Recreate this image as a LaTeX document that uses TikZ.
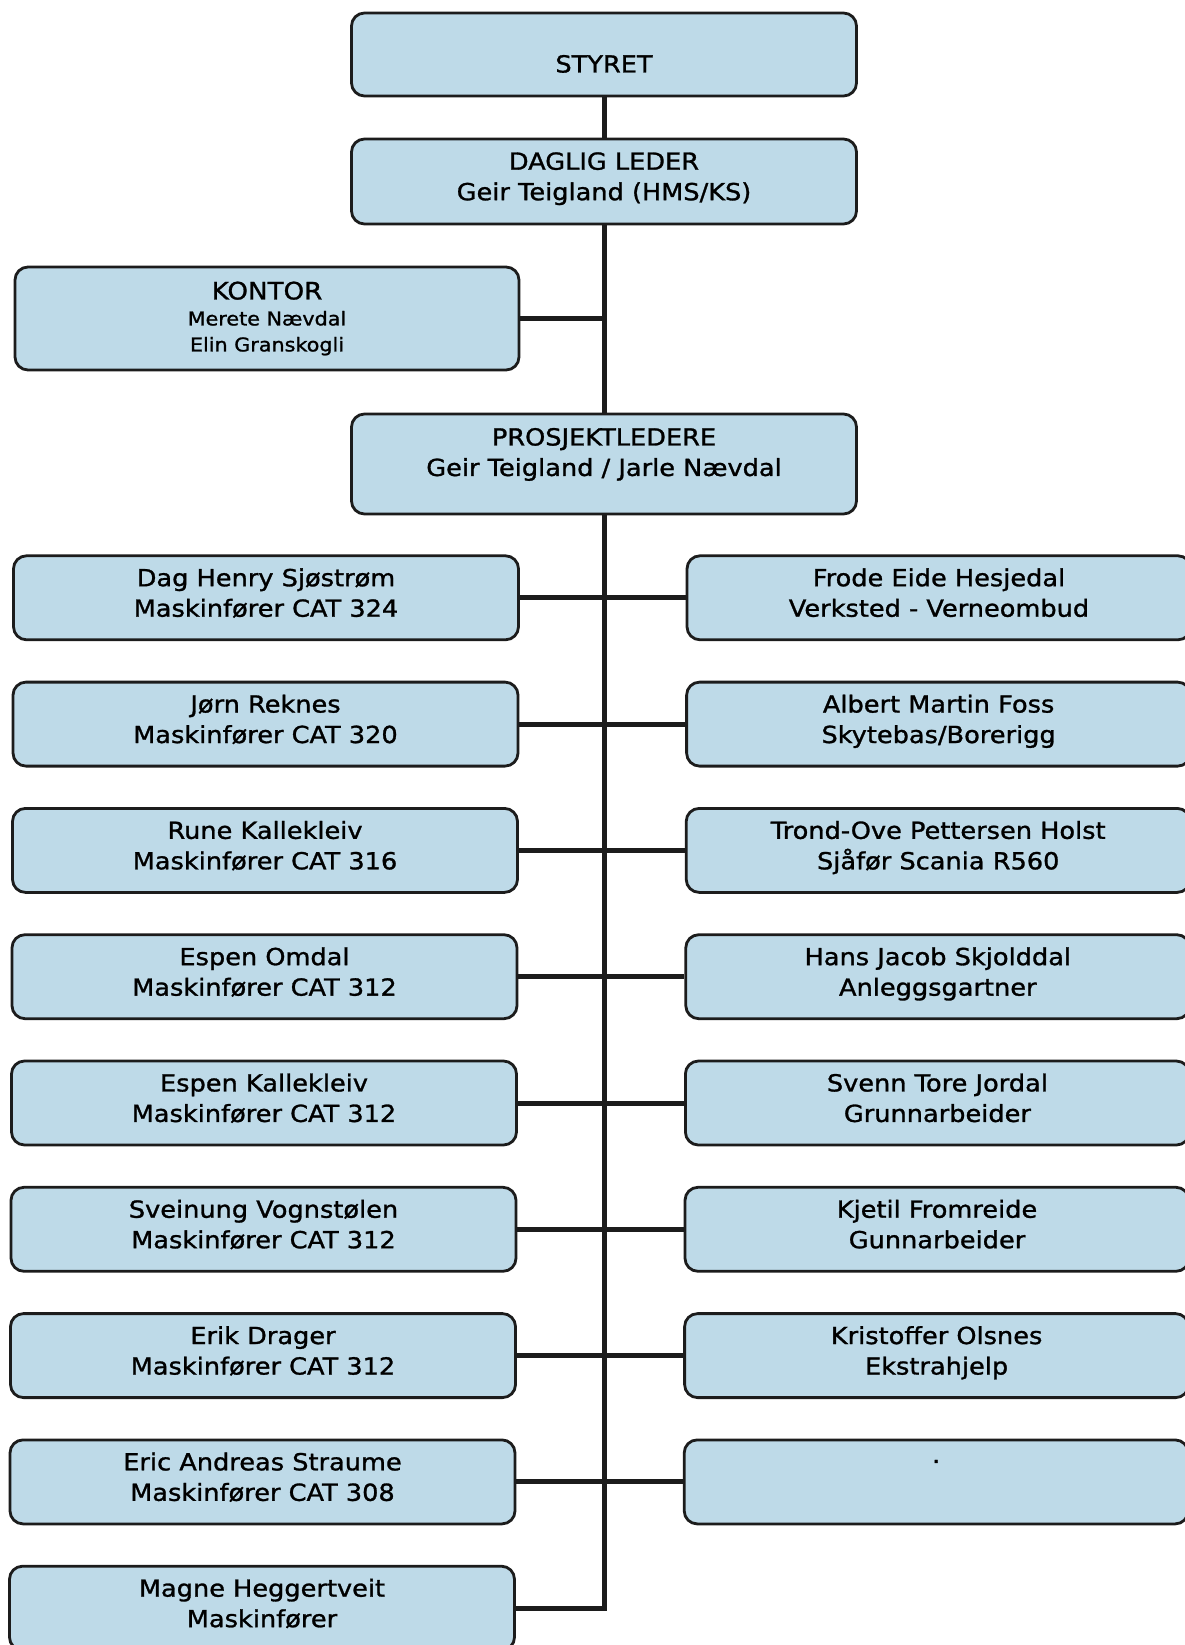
\documentclass[tikz,border=0pt]{standalone}
\usepackage{fontspec}
\setmainfont[FakeStretch=1.09,FakeBold=1.2]{DejaVu Sans}
\definecolor{boxfill}{RGB}{190,218,232}
\definecolor{boxline}{RGB}{28,28,28}
\begin{document}
\begin{tikzpicture}[x=1pt,y=-1pt,
  box/.style={draw=boxline, line width=2.8pt, fill=boxfill, rounded corners=13pt,
    minimum width=505pt, minimum height=84pt, inner sep=0pt, align=center,
    font=\fontsize{23.5}{30.5}\selectfont},
  link/.style={draw=boxline, line width=5pt}]
\useasboundingbox[fill=white] (0,0) rectangle (1184,1645);

\node[box, minimum height=83pt, text height=40pt, text depth=4pt] (sty) at (604,54.5) {STYRET};
\node[box, minimum height=85pt] (dag) at (604,181.5) {DAGLIG LEDER\\Geir Teigland (HMS/KS)\\[-20pt]\mbox{}};
\node[box, minimum width=504pt, minimum height=103pt, font=\fontsize{19}{26}\selectfont] (kon) at (267,318.5)
  {{\fontsize{24}{28}\selectfont KONTOR}\\Merete Nævdal\\Elin Granskogli};
\node[box, minimum height=100pt] (pro) at (604,464) {PROSJEKTLEDERE\\Geir Teigland / Jarle Nævdal\\[-6.5pt]\mbox{}};

\foreach \i/\t in {
  1/{Dag Henry Sjøstrøm\\Maskinfører CAT 324},
  2/{Jørn Reknes\\Maskinfører CAT 320},
  3/{Rune Kallekleiv\\Maskinfører CAT 316},
  4/{Espen Omdal\\Maskinfører CAT 312},
  5/{Espen Kallekleiv\\Maskinfører CAT 312},
  6/{Sveinung Vognstølen\\Maskinfører CAT 312},
  7/{Erik Drager\\Maskinfører CAT 312},
  8/{Eric Andreas Straume\\Maskinfører CAT 308},
  9/{Magne Heggertveit\\Maskinfører}} {
  \pgfmathsetmacro\xx{266-0.5*(\i-1)}
  \pgfmathsetmacro\yy{597.8+126.3*(\i-1)}
  \node[box] (L\i) at (\xx,\yy) {\t\\[-20pt]\mbox{}};
}
\foreach \i/\t in {
  1/{Frode Eide Hesjedal\\Verksted - Verneombud},
  2/{Albert Martin Foss\\Skytebas/Borerigg},
  3/{Trond-Ove Pettersen Holst\\Sjåfør Scania R560},
  4/{Hans Jacob Skjolddal\\Anleggsgartner},
  5/{Svenn Tore Jordal\\Grunnarbeider},
  6/{Kjetil Fromreide\\Gunnarbeider},
  7/{Kristoffer Olsnes\\Ekstrahjelp},
  8/{.\\\mbox{}}} {
  \pgfmathsetmacro\xx{939-0.4*(\i-1)}
  \pgfmathsetmacro\yy{597.8+126.3*(\i-1)}
  \node[box, minimum width=504pt] (R\i) at (\xx,\yy) {\t\\[-20pt]\mbox{}};
}

\draw[link] (sty.south) -- (dag.north);
\draw[link] (dag.south) -- (pro.north);
\draw[link] (kon.east) -- (kon.east -| dag.south);
\draw[link] (pro.south) -- (pro.south |- L9.east) -- (L9.east);
\foreach \i in {1,...,8} {
  \draw[link] (L\i.east) -- (R\i.west);
}
\end{tikzpicture}
\end{document}
